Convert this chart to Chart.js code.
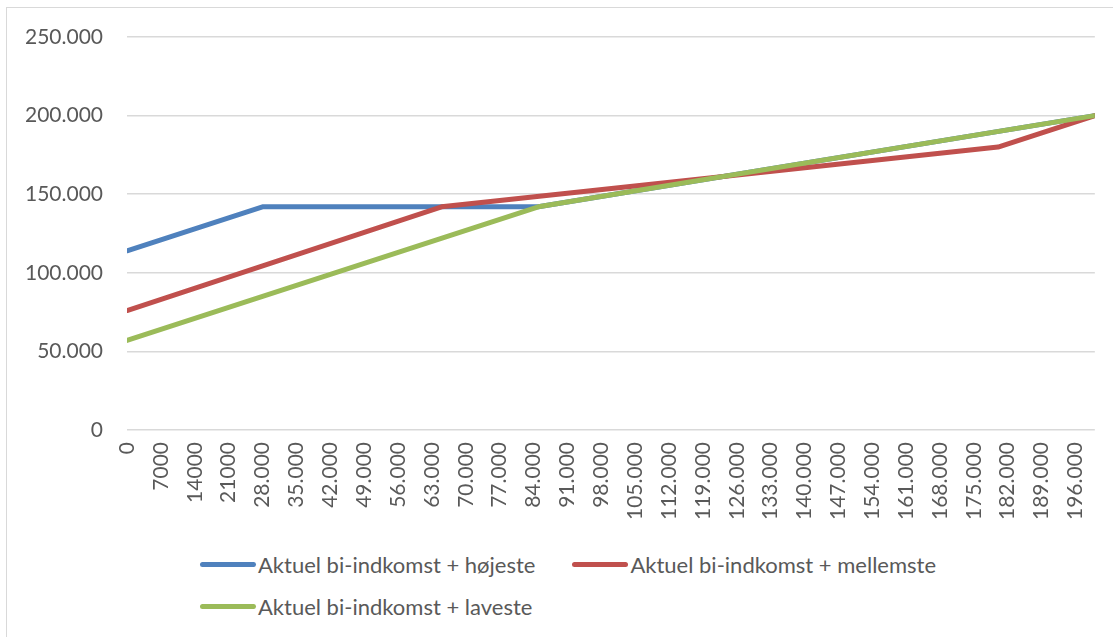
<!DOCTYPE html>
<html>
<head>
<meta charset="utf-8">
<script src="https://cdn.jsdelivr.net/npm/chart.js@4/dist/chart.umd.min.js"></script>
<style>
  body { margin: 0; background: #fff; font-family: Lato, sans-serif; }
  #frame { position: absolute; left: 6px; top: 7px; width: 1120px; height: 640px; border: 1px solid #d9d9d9; box-sizing: border-box; }
  #wrap { position: absolute; left: 0; top: 0; width: 1113px; height: 540px; }
  #legend { position: absolute; left: 200px; top: 550px; width: 780px; display: flex; flex-wrap: wrap; column-gap: 37px; row-gap: 14px; color: #595959; font-size: 22px; }
  .item { display: flex; align-items: center; height: 28px; }
  .swatch { width: 56px; height: 5px; border-radius: 3px; margin-right: 2px; }
</style>
</head>
<body>
<div id="frame"></div>
<div id="wrap"><canvas id="grafico"></canvas></div>
<div id="legend"></div>
<script>
// x-akse: indkomst, tick-vaerdier og deres tekster som i originalen
const tickValues = [0, 7000, 14000, 21000, 28000, 35000, 42000, 49000, 56000, 63000, 70000,
  77000, 84000, 91000, 98000, 105000, 112000, 119000, 126000, 133000, 140000, 147000,
  154000, 161000, 168000, 175000, 182000, 189000, 196000]
const tickLabels = ['0', '7000', '14000', '21000', '28.000', '35.000', '42.000', '49.000',
  '56.000', '63.000', '70.000', '77.000', '84.000', '91.000', '98.000', '105.000', '112.000',
  '119.000', '126.000', '133.000', '140.000', '147.000', '154.000', '161.000', '168.000',
  '175.000', '182.000', '189.000', '196.000']

// knaekpunkter (x = bi-indkomst, y = samlet)
const hojesteX = [0, 28000, 85000, 200000]
const hojesteY = [114000, 142000, 142000, 200000]
const mellemsteX = [0, 65000, 180000, 200000]
const mellemsteY = [76000, 142000, 180000, 200000]
const lavesteX = [0, 85000, 200000]
const lavesteY = [57000, 142000, 200000]

const punkter = (xs, ys) => xs.map((x, i) => ({ x: x, y: ys[i] }))
const tusind = v => String(v).replace(/\B(?=(\d{3})+(?!\d))/g, '.')

const serie = (label, xs, ys, color, order) => ({
  label: label,
  data: punkter(xs, ys),
  borderColor: color,
  backgroundColor: color,
  borderWidth: 5,
  borderCapStyle: 'round',
  borderJoinStyle: 'round',
  pointRadius: 0,
  tension: 0,
  order: order
})

const data = {
  datasets: [
    serie('Aktuel bi-indkomst + højeste', hojesteX, hojesteY, '#4f81bd', 3),
    serie('Aktuel bi-indkomst + mellemste', mellemsteX, mellemsteY, '#c0504d', 2),
    serie('Aktuel bi-indkomst + laveste', lavesteX, lavesteY, '#9bbb59', 1)
  ]
}

const config = {
  type: 'line',
  data: data,
  options: {
    responsive: true,
    maintainAspectRatio: false,
    animation: false,
    layout: { padding: { left: 0, top: 37, right: 16, bottom: 0 } },
    plugins: { legend: { display: false }, tooltip: { enabled: false } },
    scales: {
      x: {
        type: 'linear',
        min: 0,
        max: 200000,
        afterBuildTicks: scale => { scale.ticks = tickValues.map(v => ({ value: v })) },
        afterFit: scale => { scale.height = 110 },
        grid: { display: false, drawTicks: false },
        border: { display: false },
        ticks: {
          autoSkip: false,
          minRotation: 90,
          maxRotation: 90,
          padding: 12,
          color: '#595959',
          font: { family: 'Lato', size: 21 },
          callback: value => tickLabels[tickValues.indexOf(value)]
        }
      },
      y: {
        min: 0,
        max: 250000,
        afterFit: scale => { scale.width = 127 },
        grid: { color: '#d9d9d9', lineWidth: 1.5, drawTicks: false },
        border: { display: false },
        ticks: {
          stepSize: 50000,
          padding: 24,
          color: '#595959',
          font: { family: 'Lato', size: 21 },
          callback: value => tusind(value)
        }
      }
    }
  }
}

const grafico = new Chart(document.getElementById('grafico'), config)

// forklaring som i Excel: raekker starter til venstre
const legend = document.getElementById('legend')
grafico.data.datasets.forEach(ds => {
  const item = document.createElement('div')
  item.className = 'item'
  const sw = document.createElement('span')
  sw.className = 'swatch'
  sw.style.background = ds.borderColor
  const txt = document.createElement('span')
  txt.textContent = ds.label
  item.appendChild(sw)
  item.appendChild(txt)
  legend.appendChild(item)
})
</script>
</body>
</html>
